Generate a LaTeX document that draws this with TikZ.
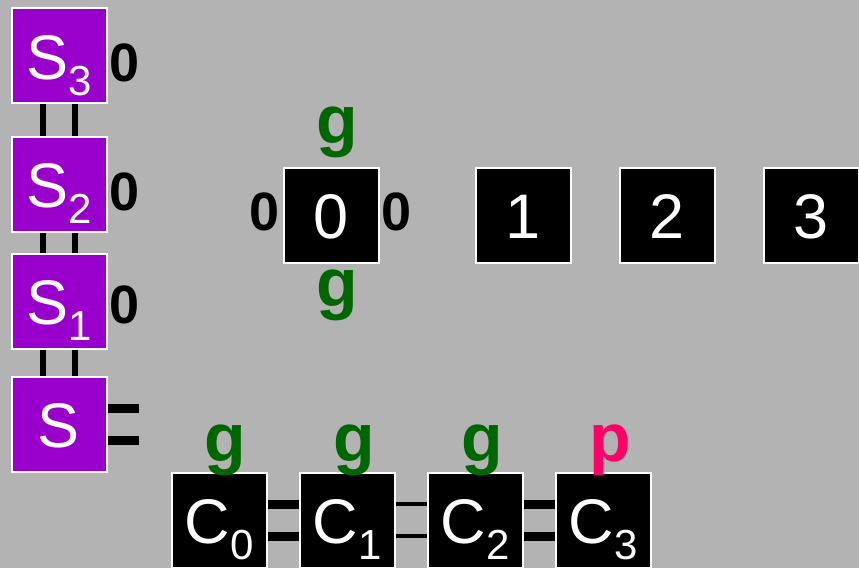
\documentclass[tikz,border=0pt]{standalone}
\usepackage{fontspec}
\setmainfont{Liberation Sans}
\definecolor{bg}{RGB}{179,179,179}
\definecolor{purp}{RGB}{153,0,204}
\definecolor{gr}{RGB}{0,102,0}
\definecolor{pk}{RGB}{255,0,102}
\newcommand{\sbs}[1]{\raisebox{-16pt}{\fontsize{42}{42}\selectfont #1}}
\begin{document}
\begin{tikzpicture}[x=1pt,y=-1pt,
  box/.style={draw=white,line width=2pt,minimum size=95pt,inner sep=0pt,
    text=white,font=\fontsize{63}{63}\selectfont,text height=47pt,text depth=0pt},
  sbox/.style={box,fill=purp},
  kbox/.style={box,fill=black},
  lab/.style={anchor=base,inner sep=0pt,font=\bfseries\fontsize{54}{54}\selectfont},
  glab/.style={anchor=base,inner sep=0pt,text=gr,font=\bfseries\fontsize{68}{68}\selectfont},
  plab/.style={glab,text=pk},
  vline/.style={line width=6pt,black},
  thick line/.style={line width=9pt,black},
  thin line/.style={line width=4pt,black}]
\useasboundingbox (0,0) rectangle (859,568);
\fill[bg] (0,0) rectangle (859,568);
\clip (0,0) rectangle (859,568);
% S column
\node[sbox] (s3) at (59,55.5) {S\sbs{3}};
\node[sbox] (s2) at (59,184) {S\sbs{2}};
\node[sbox] (s1) at (59,301) {S\sbs{1}};
\node[sbox] (s)  at (59,424) {S};
% state boxes
\node[kbox] (b0) at (331,215) {0};
\node[kbox] (b1) at (523,215) {1};
\node[kbox] (b2) at (667,215) {2};
\node[kbox] (b3) at (811,215) {3};
% C row
\node[kbox] (c0) at (219,520) {C\sbs{0}};
\node[kbox] (c1) at (347,520) {C\sbs{1}};
\node[kbox] (c2) at (475,520) {C\sbs{2}};
\node[kbox] (c3) at (603,520) {C\sbs{3}};
% vertical double connectors
\foreach \a/\b in {s3/s2,s2/s1,s1/s}{
  \draw[vline] ([xshift=-16pt]\a.south) -- ([xshift=-16pt]\b.north);
  \draw[vline] ([xshift=16pt]\a.south) -- ([xshift=16pt]\b.north);
}
% stub from S
\coordinate (send) at (139,424);
\draw[thick line] ([yshift=16pt]s.east) -- ([yshift=16pt]send);
\draw[thick line] ([yshift=-16pt]s.east) -- ([yshift=-16pt]send);
% C connectors
\draw[thick line] ([yshift=16pt]c0.east) -- ([yshift=16pt]c1.west);
\draw[thick line] ([yshift=-16pt]c0.east) -- ([yshift=-16pt]c1.west);
\draw[thin line] ([yshift=16pt]c1.east) -- ([yshift=16pt]c2.west);
\draw[thin line] ([yshift=-16pt]c1.east) -- ([yshift=-16pt]c2.west);
\draw[thick line] ([yshift=16pt]c2.east) -- ([yshift=16pt]c3.west);
\draw[thick line] ([yshift=-16pt]c2.east) -- ([yshift=-16pt]c3.west);
% labels
\node[lab] (l3) at (124.5,81) {0};
\node[lab] (l2) at (124.5,210) {0};
\node[lab] (l1) at (124.5,323) {0};
\node[lab] (b0l) at (264.5,230) {0};
\node[lab] (b0r) at (396.5,230) {0};
\node[glab] (b0t) at (337.5,143) {g};
\node[glab] (b0b) at (337.5,306) {g};
\node[glab] (c0g) at (225.5,461) {g};
\node[glab] (c1g) at (354.5,461) {g};
\node[glab] (c2g) at (482.5,461) {g};
\node[plab] (c3p) at (610.5,461) {p};
\end{tikzpicture}
\end{document}
